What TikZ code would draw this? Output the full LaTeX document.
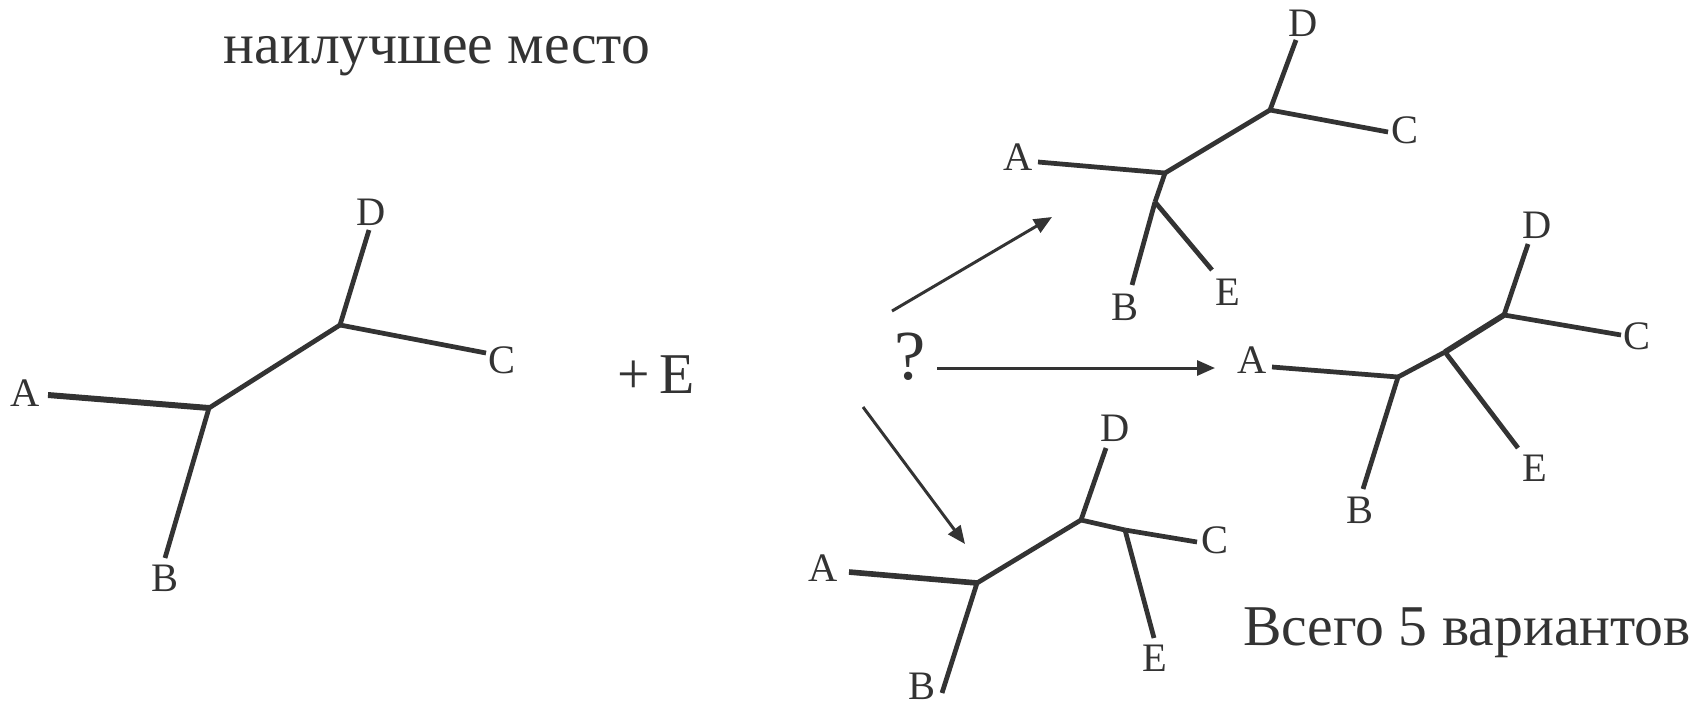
\documentclass[tikz,border=0pt]{standalone}
\usepackage{fontspec}
\setmainfont{Liberation Serif}
\usetikzlibrary{arrows.meta}
\definecolor{ink}{RGB}{51,51,51}

\begin{document}
\begin{tikzpicture}[
  x=0.01cm, y=-0.01cm,
  lbl/.style={inner sep=0pt, text=ink, font=\fontsize{11.5}{14}\selectfont},
  big/.style={inner sep=0pt, anchor=base, text=ink, font=\fontsize{16.4}{19}\selectfont},
  branch/.style={draw=ink, line width=1.35pt, line cap=butt},
  arr/.style={draw=ink, line width=0.85pt, -{Triangle[length=1.8mm, width=1.5mm]}}
]
  \useasboundingbox (0,0) rectangle (1701,703);

  \node[big] (title) at (437,63) {наилучшее место};
  \node[big] (plusE) at (656,393) {+\,E};
  \node[big] (total) at (1467,645) {Всего 5 вариантов};
  \node[inner sep=0pt, anchor=base, text=ink, font=\fontsize{20}{24}\selectfont] (q) at (910,379) {?};

  % tree before E is added
  \begin{scope}[shift={(209,408)}]
    \coordinate (n1) at (0,0);
    \coordinate (n2) at (131,-83);
    \coordinate (a) at (-161,-13);
    \coordinate (b) at (-44,150);
    \coordinate (c) at (277,-55);
    \coordinate (d) at (160,-178);
    \node[lbl] (la) at (-184,-15) {A};
    \node[lbl] (lb) at (-44,170) {B};
    \node[lbl] (lc) at (293,-48) {C};
    \node[lbl] (ld) at (162,-196) {D};

    \draw[branch, line width=1.7pt] (n1) -- (a);
    \draw[branch] (n1) -- (b);
    \draw[branch] (n1) -- (n2);
    \draw[branch] (n2) -- (c);
    \draw[branch] (n2) -- (d);
  \end{scope}

  % E on branch B
  \begin{scope}[shift={(1165,173)}]
    \coordinate (n1') at (0,0);
    \coordinate (nx') at (-10,29);
    \coordinate (n2') at (105,-63);
    \coordinate (a') at (-127,-11);
    \coordinate (b') at (-33,112);
    \coordinate (c') at (223,-41);
    \coordinate (d') at (131,-133);
    \coordinate (e') at (47,97);
    \node[lbl] (la') at (-147,-16) {A};
    \node[lbl] (lb') at (-40,134) {B};
    \node[lbl] (lc') at (240,-43) {C};
    \node[lbl] (ld') at (138,-150) {D};
    \node[lbl] (le') at (63,119) {E};

    \draw[branch] (n1') -- (a');
    \draw[branch] (n1') -- (nx');
    \draw[branch] (nx') -- (b');
    \draw[branch] (nx') -- (e');
    \draw[branch] (n1') -- (n2');
    \draw[branch] (n2') -- (c');
    \draw[branch] (n2') -- (d');
  \end{scope}

  % E on the inner branch
  \begin{scope}[shift={(1398,377)}]
    \coordinate (n1'') at (0,0);
    \coordinate (ne'') at (47,-25);
    \coordinate (n2'') at (106,-62);
    \coordinate (a'') at (-126,-10);
    \coordinate (b'') at (-35,112);
    \coordinate (c'') at (223,-42);
    \coordinate (d'') at (130,-133);
    \coordinate (e'') at (120,71);
    \node[lbl] (la'') at (-146,-17) {A};
    \node[lbl] (lb'') at (-38,133) {B};
    \node[lbl] (lc'') at (239,-41) {C};
    \node[lbl] (ld'') at (139,-152) {D};
    \node[lbl] (le'') at (137,91) {E};

    \draw[branch] (n1'') -- (a'');
    \draw[branch] (n1'') -- (b'');
    \draw[branch] (n1'') -- (ne'');
    \draw[branch, line width=1.6pt] (ne'') -- (n2'');
    \draw[branch] (ne'') -- (e'');
    \draw[branch] (n2'') -- (c'');
    \draw[branch] (n2'') -- (d'');
  \end{scope}

  % E on branch C
  \begin{scope}[shift={(977,583)}]
    \coordinate (n1''') at (0,0);
    \coordinate (n2''') at (104,-63);
    \coordinate (ne''') at (148,-53);
    \coordinate (a''') at (-128,-11);
    \coordinate (b''') at (-35,110);
    \coordinate (c''') at (220,-41);
    \coordinate (d''') at (129,-135);
    \coordinate (e''') at (177,55);
    \node[lbl] (la''') at (-154,-15) {A};
    \node[lbl] (lb''') at (-55,103) {B};
    \node[lbl] (lc''') at (238,-43) {C};
    \node[lbl] (ld''') at (138,-155) {D};
    \node[lbl] (le''') at (178,75) {E};

    \draw[branch, line width=1.6pt] (n1''') -- (a''');
    \draw[branch] (n1''') -- (b''');
    \draw[branch] (n1''') -- (n2''');
    \draw[branch] (n2''') -- (ne''');
    \draw[branch] (ne''') -- (c''');
    \draw[branch] (ne''') -- (e''');
    \draw[branch] (n2''') -- (d''');
  \end{scope}

  % arrows from the question mark
  \coordinate (up0) at (892,311);
  \coordinate (up1) at (1052,217);
  \coordinate (mid0) at (937,368);
  \coordinate (mid1) at (1215,368);
  \coordinate (dn0) at (863,407);
  \coordinate (dn1) at (965,544);
  \draw[arr] (up0) -- (up1);
  \draw[arr] (mid0) -- (mid1);
  \draw[arr] (dn0) -- (dn1);
\end{tikzpicture}
\end{document}
